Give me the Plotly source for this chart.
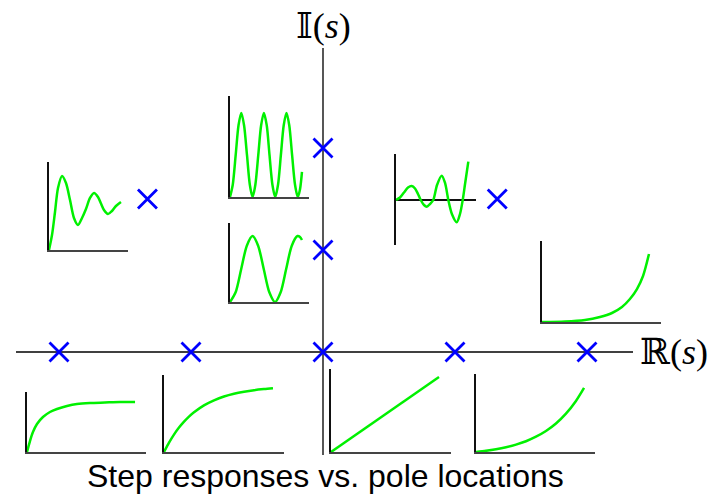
import plotly.graph_objects as go

W, H = 724, 495

# ---- pole locations (s-plane) ----
pole_re = [-2, -1, 0, 1, 2, -1.33, 0, 0, 1.32]
pole_im = [0, 0, 0, 0, 0, 1.5, 2, 1, 1.5]

# ---- step responses (time fraction, response fraction) ----
tA = [0, .025, .05, .084, .134, .193, .252, .336, .420, .529, .655, .782, .908]
vA = [0, .183, .333, .467, .583, .667, .717, .767, .800, .817, .825, .833, .833]

tB = [0, .042, .083, .125, .167, .208, .25, .333, .417, .5, .583, .667, .75, .833, .908]
vB = [0, .122, .226, .317, .394, .460, .516, .606, .671, .721, .757, .783, .803, .817, .827]

tC = [0, 0.9]
vC = [0, 0.904]

tD = [0, .084, .168, .252, .336, .420, .504, .588, .672, .756, .840, .908]
vD = [0, .015, .035, .061, .095, .138, .196, .269, .365, .491, .654, .821]

tE = [0, .193, .361, .487, .588, .672, .739, .798, .849, .899]
vE = [0, .006, .025, .062, .111, .185, .284, .407, .568, .840]

tF = [0, .038, .076, .114, .165, .215, .266, .316, .367, .418, .468, .519, .570,
      .620, .658, .696, .747, .797, .848, .911]
vF = [0, .170, .432, .705, .841, .761, .568, .364, .284, .364, .466, .591, .648,
      .602, .528, .455, .409, .443, .500, .545]

tG = [0, .035, .072, .108, .143, .178, .215, .251, .286, .321, .358, .394, .429,
      .465, .500, .537, .572, .608, .644, .680, .715, .750, .786, .823, .858, .886, .911]
vG = [0, .122, .416, .710, .832, .710, .416, .122, 0, .122, .416, .710, .832,
      .710, .416, .122, 0, .122, .416, .710, .832, .710, .416, .122, 0, .075, .248]

tH = [0, .071, .142, .213, .285, .356, .427, .498, .570, .641, .711, .782, .854, .886, .911]
vH = [0, .123, .418, .713, .835, .713, .418, .123, 0, .123, .418, .713, .835, .823, .785]

tI = [0, .05, .1, .15, .196, .238, .275, .309, .35, .384, .425, .466, .513, .571,
      .613, .654, .7, .759, .8, .834, .863, .904]
vI = [0, .027, .082, .137, .154, .126, .066, 0, -.055, -.074, -.044, 0, .165, .267,
      .187, 0, -.157, -.245, -.154, 0, .176, .421]

caption = "Step responses vs. pole locations"
re_label = "ℝ(<i>s</i>)"
im_label = "𝕀(<i>s</i>)"

fig = go.Figure()

# main s-plane axes: pixel mapping x = 323 + 132*Re, y = 352 - 102*Im
xr = [-323 / 132, (W - 323) / 132]
yr = [-(H - 352) / 102, 352 / 102]

fig.add_shape(type="line", x0=(16 - 323) / 132, x1=(633 - 323) / 132, y0=0, y1=0,
              xref="x", yref="y", line=dict(color="black", width=1.5), layer="below")
fig.add_shape(type="line", x0=0, x1=0, y0=(352 - 48) / 102, y1=(352 - 455) / 102,
              xref="x", yref="y", line=dict(color="#444", width=1.8), layer="below")

# insets: (t, v, box x0, x1, ytop, ybottom, yrange, baseline-mid)
insets = [
    (tA, vA, 27, 146, 392, 452, [0, 1], False),
    (tB, vB, 164, 284, 375, 452, [0, 1], False),
    (tC, vC, 331, 451, 369, 452, [0, 1], False),
    (tD, vD, 476, 595, 374, 452, [0, 1], False),
    (tE, vE, 542, 661, 241, 322, [0, 1], False),
    (tF, vF, 49, 128, 162, 250, [0, 1], False),
    (tG, vG, 230, 309, 96, 197, [0, 1], False),
    (tH, vH, 230, 309, 223, 302, [0, 1], False),
    (tI, vI, 396, 476, 154, 245, [-45 / 91, 46 / 91], True),
]

layout_axes = {}
for i, (t, v, x0, x1, yt, yb, yrng, mid) in enumerate(insets, start=2):
    xa, ya = f"x{i}", f"y{i}"
    fig.add_trace(go.Scatter(x=t, y=v, xaxis=xa, yaxis=ya, mode="lines",
                             line=dict(color="rgb(0,240,0)", width=2.5,
                                       shape="spline", smoothing=0.8),
                             hoverinfo="skip", showlegend=False))
    layout_axes[f"xaxis{i}"] = dict(domain=[x0 / W, x1 / W], range=[0, 1], anchor=ya,
                                    showline=not mid, linecolor="#444", linewidth=2,
                                    showgrid=False, zeroline=False, showticklabels=False,
                                    ticks="", fixedrange=True)
    layout_axes[f"yaxis{i}"] = dict(domain=[1 - yb / H, 1 - yt / H], range=yrng, anchor=xa,
                                    showline=True, linecolor="#111", linewidth=1.5,
                                    showgrid=False, zeroline=mid, zerolinecolor="#111",
                                    zerolinewidth=1.5, showticklabels=False,
                                    ticks="", fixedrange=True)

fig.add_trace(go.Scatter(x=pole_re, y=pole_im, mode="markers", xaxis="x", yaxis="y",
                         marker=dict(symbol="x-thin", size=19, color="blue",
                                     line=dict(color="rgb(0,0,255)", width=2.8)),
                         hoverinfo="skip", showlegend=False))

fig.update_layout(
    width=W, height=H,
    margin=dict(l=0, r=0, t=0, b=0),
    paper_bgcolor="white", plot_bgcolor="rgba(0,0,0,0)",
    xaxis=dict(range=xr, visible=False, domain=[0, 1], fixedrange=True),
    yaxis=dict(range=yr, visible=False, domain=[0, 1], fixedrange=True),
    showlegend=False,
    **layout_axes,
)

fig.add_annotation(x=(638 - 323) / 132, y=0, xref="x", yref="y", text=re_label,
                   showarrow=False, xanchor="left", yanchor="middle",
                   font=dict(family="Liberation Serif, DejaVu Serif, serif", size=36, color="black"))
fig.add_annotation(x=0, y=(352 - 26) / 102, xref="x", yref="y", text=im_label,
                   showarrow=False, xanchor="center", yanchor="middle",
                   font=dict(family="Liberation Serif, DejaVu Serif, serif", size=36, color="black"))
fig.add_annotation(x=325 / W, y=1 - 476 / H, xref="paper", yref="paper", text=caption,
                   showarrow=False, xanchor="center", yanchor="middle",
                   font=dict(family="Liberation Sans, Arial, sans-serif", size=32, color="black"))

fig.write_html("out.html", config={"displayModeBar": False},
               post_script="document.body.style.margin='0';document.body.style.overflow='hidden';")
